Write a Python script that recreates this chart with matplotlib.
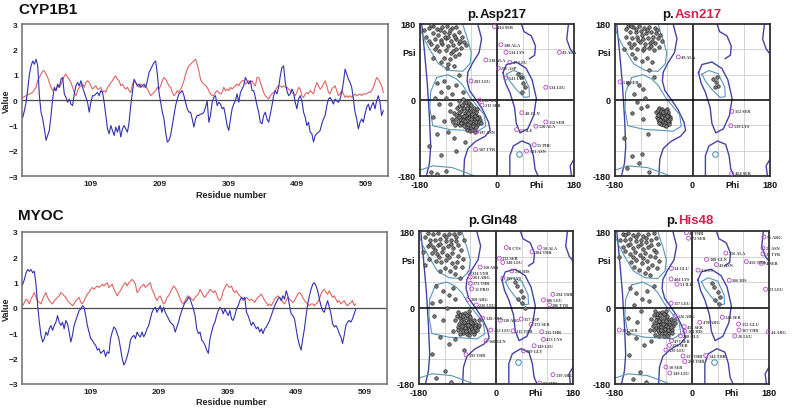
import numpy as np
import matplotlib
matplotlib.use("Agg")
import matplotlib.pyplot as plt

plt.rcParams['font.family'] = ['Liberation Sans', 'DejaVu Sans']

# ---------------- profile data (value per sampled residue) ----------------
profile_start = 10.1      # first sampled residue
profile_step = 2.415      # residues between samples

cyp1b1_blue = [
    -0.68, -0.42, -0.09, 0.43, 1.02, 1.35, 1.54, 1.41, 1.61, 1.35,
    0.17, -0.48, -0.75, -1.14, -1.59, -1.40, -1.20, -0.61, 0.04, 0.50,
    0.37, 0.63, 0.50, 0.82, 0.89, 0.24, 0.10, -0.09, 0.04, -0.16,
    -0.22, 0.24, 0.56, 0.69, 0.56, 0.76, 0.50, 0.30, 0.10, -0.09,
    -0.48, -0.09, 0.17, 0.17, 0.24, 0.30, 0.17, 0.37, 0.30, -0.09,
    -0.61, -1.14, -1.33, -1.01, -1.20, -1.40, -1.07, -1.27, -1.01, -1.46,
    -1.14, -1.01, -1.14, -1.27, -0.88, -0.22, 0.30, 0.82, 0.69, 0.56,
    0.63, 0.50, 0.56, 0.63, 0.50, 0.76, 1.08, 1.22, 1.35, 1.48,
    1.54, 1.02, 0.30, -0.09, -0.48, -0.75, -1.27, -1.66, -1.59, -1.40,
    -1.01, -0.61, -0.22, 0.04, 0.24, 0.30, 0.37, 0.17, -0.09, -0.35,
    -0.48, -0.48, -0.75, -1.07, -0.75, -0.61, -0.61, -0.55, -0.55, -0.48,
    -0.29,
    -0.03, -0.88, -0.61, -0.09, 0.10, 0.17, -0.22, -0.09, -0.16, -0.35,
    -0.29, -0.61, -1.01, -1.20, -0.75, -0.35, -0.16, -0.03, 0.24, -0.09,
    0.30, 0.43, 0.56, 0.89, 0.76, 0.63, 0.76, 0.37, 0.37, 0.10,
    -0.22, -0.48, -0.88, -0.94, -0.61, -0.48, -0.75, -0.88, -0.55, -0.22,
    0.17, 0.37, 0.24, 0.50, 0.95, 1.28, 1.35, 0.69, 0.37, 0.17,
    0.24, 0.43, 0.30, -0.09, -0.35, 0.04, 0.17, -0.03, -0.48, -0.68,
    -1.01, -0.88, -1.27, -1.33, -1.66, -1.40, -1.33, -1.27, -1.20, -0.94,
    -0.75, -0.61, -0.22, 0.04, 0.10, -0.03, -0.16, 0.04, -0.03, -0.09,
    0.04, 0.30, 0.69, 1.22, 1.02, 0.82, 0.69, 0.50, 0.04, -0.48,
    -0.75, -1.14, -0.88, -0.75, -0.88, -0.55, -0.29, -0.16, -0.42, -0.22,
    -0.09, -0.35, -0.03, 0.17, -0.09, -0.61, -0.42,
]

cyp1b1_red = [
    0.10, 0.13, 0.17, 0.20, 0.24, 0.27, 0.30, 0.41, 0.50, 0.76,
    0.89, 1.02, 1.15, 1.15, 1.02, 0.89, 0.69, 0.50, 0.37, 0.43,
    0.37, 0.56, 0.50, 0.63, 0.76, 0.95, 1.02, 0.89, 0.82, 0.69,
    0.50, 0.30, 0.17, 0.37, 0.50, 0.56, 0.63, 0.50, 0.69, 0.76,
    0.69, 0.56, 0.43, 0.50, 0.56, 0.43, 0.43, 0.50, 0.30, 0.37,
    0.30, 0.50, 0.56, 0.69, 0.76, 0.89, 0.95, 0.82, 0.76, 0.56,
    0.63, 0.50, 0.43, 0.50, 0.37, 0.30, 0.63, 0.76, 0.69, 0.56,
    0.50, 0.63, 0.56, 0.50, 0.56, 0.43, 0.30, 0.17, 0.24, 0.30,
    0.37, 0.50, 0.43, 0.56, 0.76, 0.89, 0.82, 0.69, 0.56, 0.50,
    0.30, 0.17, 0.24, 0.37, 0.30, 0.43, 0.56, 0.76, 1.02, 1.22,
    1.35, 1.41, 1.48, 1.54, 1.61, 1.41, 1.15, 0.82, 0.69, 0.63,
    0.56,
    0.50, 0.37, 0.24, 0.17, 0.17, 0.30, 0.37, 0.30, 0.24, 0.30,
    0.50, 0.37, 0.43, 0.37, 0.50, 0.43, 0.50, 0.56, 0.63, 0.56,
    0.69, 0.76, 0.76, 0.63, 0.69, 0.76, 0.69, 0.76, 0.63, 0.56,
    0.89, 0.89, 0.69, 0.50, 0.30, 0.17, 0.10, 0.04, 0.17, 0.24,
    0.30, 0.37, 0.50, 0.56, 0.56, 0.50, 0.56, 0.50, 0.50, 0.43,
    0.37, 0.30, 0.24, 0.17, 0.30, 0.50, 0.43, 0.17, 0.10, 0.24,
    0.30, 0.24, 0.37, 0.30, 0.24, 0.50, 0.69, 0.56, 0.43, 0.50,
    0.63, 0.76, 0.56, 0.30, 0.24, 0.43, 0.50, 0.56, 0.37, 0.17,
    0.24, 0.37, 0.24, 0.10, 0.17, 0.10, 0.17, 0.10, 0.17, 0.24,
    0.17, 0.20, 0.24, 0.17, 0.24, 0.24, 0.24, 0.30, 0.30, 0.37,
    0.50, 0.69, 0.89, 0.82, 0.69, 0.56, 0.30,
]

myoc_blue = [
    0.94, 1.13, 1.39, 1.52, 1.45, 1.52, 1.39, 1.45, 0.94, 0.09,
    -0.56, -1.08, -1.34, -1.21, -0.95, -1.08, -0.82, -0.69, -0.88, -0.69,
    -0.56, -0.30, -0.56, -0.69, -0.56, -0.82, -0.49, -0.62, -0.95, -1.34,
    -1.08, -0.69, -0.49, -0.30, -0.10, -0.04, 0.09, 0.03, -0.30, -0.69,
    -0.95, -1.21, -1.27, -1.40, -1.47, -1.66, -1.60, -1.79, -1.73, -1.66,
    -1.92, -1.73, -1.79, -1.21, -0.95, -0.75, -0.82, -1.01, -1.21, -1.60,
    -1.99, -2.25, -2.12, -1.92, -1.66, -1.27, -1.14, -1.08, -1.21, -0.95,
    -1.08, -1.14, -0.95, -1.14, -1.01, -0.82, -0.69, -0.43, -0.17, -0.04,
    0.03, -0.17, -0.04, 0.09, -0.17, 0.03, -0.17, -0.30, -0.43, -0.56,
    -0.62, -0.69, -0.95, -0.75, -0.56, -0.30, -0.10, 0.09, 0.22, 0.29,
    0.42, 0.35, 0.16, -0.04, -0.30, -0.82, -1.01, -0.95, -1.27, -1.34,
    -1.47,
    -1.66, -1.79, -1.21, -0.95, -0.69, -0.56, -0.30, -0.10, 0.03, -0.04,
    -0.23, -0.04, -0.17, -0.30, -0.10, -0.43, -0.49, -0.30, -0.04, 0.09,
    0.29, 0.42, 0.35, 0.42, -0.17, -0.30, -0.49, -0.69, -0.56, -0.69,
    -0.82, -0.75, -0.95, -0.82, -1.01, -0.82, -0.75, -0.62, -0.49, -0.30,
    -0.10, 0.09, 0.22, 0.35, 0.42, 0.29, 0.48, 0.35, 0.68, 0.48,
    0.09, -0.23, -0.30, -0.43, -0.82, -1.21, -1.47, -1.66, -1.21, -0.82,
    -0.30, 0.16, 0.48, 0.74, 0.94, 1.00, 0.87, 0.68, 0.35, 0.09,
    -0.10, -0.17, 0.09, 0.29, 0.03, -0.23, -0.62, -0.75, -0.69, -0.82,
    -1.01, -1.14, -1.40, -1.08, -0.69, -0.56, -0.49, -0.56, -0.43, -0.23,
    -0.04,
]

myoc_red = [
    0.09, 0.22, 0.35, 0.29, 0.16, 0.35, 0.48, 0.61, 0.42, 0.29,
    0.22, 0.16, 0.35, 0.48, 0.61, 0.42, 0.29, 0.22, 0.16, 0.29,
    0.35, 0.42, 0.48, 0.61, 0.55, 0.48, 0.42, 0.29, 0.22, 0.16,
    0.09, 0.16, 0.29, 0.35, 0.42, 0.22, 0.16, 0.29, 0.42, 0.55,
    0.61, 0.74, 0.81, 0.74, 0.81, 0.87, 0.81, 0.87, 0.94, 0.87,
    0.94, 1.00, 0.81, 0.87, 0.94, 0.74, 0.61, 0.48, 0.61, 0.68,
    0.81, 0.94, 1.00, 0.87, 1.00, 1.06, 1.13, 1.06, 0.94, 0.61,
    0.68, 0.81, 0.87, 0.94, 0.81, 0.87, 0.94, 1.00, 0.74, 0.61,
    0.42, 0.29, 0.42, 0.48, 0.29, 0.16, 0.22, 0.42, 0.48, 0.61,
    0.74, 0.87, 0.81, 0.68, 0.55, 0.35, 0.22, 0.16, 0.29, 0.42,
    0.48, 0.42, 0.35, 0.29, 0.42, 0.48, 0.55, 0.74, 0.61, 0.48,
    0.42,
    0.55, 0.61, 0.74, 0.68, 0.61, 0.68, 0.55, 0.35, 0.29, 0.42,
    0.68, 0.81, 0.94, 0.87, 0.81, 0.87, 0.68, 0.61, 0.68, 0.55,
    0.48, 0.42, 0.29, 0.35, 0.42, 0.35, 0.29, 0.35, 0.29, 0.22,
    0.35, 0.42, 0.48, 0.55, 0.42, 0.29, 0.22, 0.09, 0.16, 0.09,
    0.22, 0.35, 0.42, 0.48, 0.42, 0.35, 0.22, 0.16, 0.29, 0.42,
    0.35, 0.29, 0.22, 0.29, 0.42, 0.55, 0.61, 0.55, 0.42, 0.29,
    0.22, 0.16, 0.09, 0.16, 0.16, 0.09, 0.16, 0.22, 0.35, 0.55,
    0.68, 0.74, 0.61, 0.55, 0.68, 0.55, 0.42, 0.48, 0.35, 0.22,
    0.29, 0.16, 0.22, 0.29, 0.16, 0.09, 0.16, 0.22, 0.29, 0.09,
    0.16,
]

profile_xticks = [109, 209, 309, 409, 509]
profile_yticks = [3, 2, 1, 0, -1, -2, -3]

# ---------------- Ramachandran reference contours (phi, psi) ----------------
rama_outer = [
    [(-176, 180), (-170, 120), (-163, 40), (-158, -40), (-155, -110), (-158, -150), (-165, -180)],
    [(-45, 180), (-36, 145), (-42, 112), (-57, 88), (-68, 66), (-70, 45), (-64, 22), (-50, 2),
     (-34, -22), (-20, -52), (-16, -72), (-28, -86), (-50, -98), (-68, -115), (-76, -140), (-78, -180)],
    [(14, 65), (22, 84), (45, 90), (68, 75), (82, 48), (92, 4), (86, -36), (72, -68), (54, -78),
     (45, -55), (41, -18), (30, 18), (20, 40), (14, 65)],
    [(57, 180), (63, 162), (80, 152), (90, 128), (88, 106), (76, 98)],
    [(30, -180), (30, -132), (38, -109), (58, -97), (77, -105), (85, -132), (89, -164), (96, -180)],
    [(167, 180), (163, 144), (171, 121), (180, 109)],
    [(174, -180), (171, -156), (180, -140)],
]
rama_inner = [
    [(-180, 170), (-172, 148), (-158, 121), (-137, 86), (-110, 70), (-80, 68), (-63, 86),
     (-60, 112), (-68, 142), (-76, 166), (-80, 180)],
    [(-141, 53), (-155, 20), (-157, -20), (-150, -61), (-110, -70), (-70, -72), (-45, -74),
     (-26, -62), (-30, -35), (-50, -10), (-62, 5), (-80, 35), (-95, 50), (-115, 60), (-141, 53)],
    [(22, 61), (38, 70), (60, 62), (75, 30), (76, 8), (64, 6), (45, 25), (30, 45), (22, 61)],
    [(-180, -166), (-150, -156), (-105, -160), (-72, -172), (-52, -180)],
]
rama_inner_spot = (52, -128)

# ---------------- Ramachandran residues (phi, psi) ----------------
asp217_points = [
    (-160, 170), (-150, 175), (-140, 168), (-128, 172), (-118, 176), (-105, 170), (-95, 172),
    (-150, 158), (-138, 155), (-125, 160), (-112, 158), (-100, 155), (-88, 160), (-145, 145),
    (-132, 142), (-120, 146), (-108, 140), (-95, 145), (-82, 150), (-155, 132), (-140, 128),
    (-128, 132), (-115, 128), (-102, 130), (-90, 135), (-78, 138), (-135, 115), (-120, 118),
    (-108, 112), (-95, 120), (-84, 122), (-125, 100), (-110, 96), (-98, 104), (-165, 150),
    (-170, 165), (-115, 85), (-100, 80),
    (-155, 178), (-134, 165), (-122, 150), (-110, 165), (-98, 150), (-86, 140), (-145, 120),
    (-130, 138), (-114, 150), (-102, 116), (-88, 108), (-72, 130), (-150, 100), (-130, 90),
    (-118, 76), (-160, 140),
    (-140, 40), (-125, 45), (-115, 30), (-130, 20), (-105, 15), (-95, 35), (-145, 5), (-120, 5),
    (-90, 60), (-80, 20), (-135, -10), (-110, -10),
    (-90, -15), (-85, -25), (-80, -20), (-75, -30), (-70, -25), (-65, -35), (-60, -30), (-55, -40),
    (-50, -35), (-88, -35), (-82, -40), (-76, -45), (-70, -40), (-64, -45), (-58, -50), (-52, -45),
    (-46, -50), (-80, -55), (-74, -58), (-68, -52), (-62, -60), (-56, -56), (-50, -60), (-44, -58),
    (-72, -65), (-66, -68), (-60, -66), (-54, -70), (-95, -45), (-100, -30), (-92, -55), (-86, -60),
    (-78, -8), (-68, -12), (-62, -20), (-56, -25), (-48, -28), (-42, -40), (-40, -48), (-98, -60),
    (-105, -45), (-110, -25), (-84, -48), (-72, -36), (-66, -42), (-58, -38), (-50, -52), (-60, -45),
    (-94, -20), (-88, -28), (-82, -12), (-76, -18), (-70, -18), (-64, -28), (-58, -33), (-52, -38),
    (-46, -43), (-86, -45), (-80, -48), (-74, -50), (-68, -57), (-62, -52), (-56, -62), (-48, -64),
    (-42, -52), (-90, -40), (-84, -54), (-78, -62), (-70, -70), (-64, -74), (-58, -72), (-52, -76),
    (-96, -36), (-88, -2), (-80, 2), (-72, -4), (-66, -6), (-60, -12), (-54, -18), (-46, -22),
    (-38, -55), (-102, -52), (-76, -38), (-68, -30),
    (-150, -40), (-125, -50), (-140, -80), (-115, -75), (-100, -90), (-130, -130), (-155, -170),
    (-140, -175), (-120, -168), (-75, -100), (-95, -120), (-160, -110),
    (55, 55), (60, 40), (48, 62), (65, 30), (58, 20),
]
asp217_outliers = [
    ("444 SER", -6, 174), ("180 ALA", 9, 131), ("534 LYS", 21, 113), ("49 ALA", 146, 113),
    ("218 ALA", -26, 95), ("47 LEU", 30, 89), ("296 ASP", 3, 75), ("283 LEU", -61, 45),
    ("541 LYS", 20, 52), ("534 LEU", 114, 30), ("216 SER", -41, 0), ("215 SER", -35, -12),
    ("48 GLN", 58, -30), ("112 SER", 114, -52), ("53 ILE", 46, -70), ("520 ALA", 91, -62),
    ("197 ASN", -48, -75), ("55 PHE", 87, -106), ("531 ASN", 69, -121), ("507 TYR", -50, -117),
]

asn217_points = [
    (-150, 176), (-138, 172), (-125, 175), (-112, 170), (-100, 174), (-88, 170), (-145, 162),
    (-132, 160), (-120, 163), (-108, 158), (-96, 162), (-84, 158), (-155, 150), (-140, 148),
    (-128, 150), (-116, 145), (-104, 148), (-92, 150), (-80, 146), (-148, 136), (-135, 133),
    (-122, 138), (-110, 132), (-98, 136), (-86, 134), (-128, 120), (-115, 118), (-102, 122),
    (-90, 118), (-140, 110), (-78, 125), (-105, 100), (-95, 90), (-118, 92), (-70, 140), (-160, 120),
    (-155, 168), (-144, 176), (-131, 168), (-118, 155), (-106, 166), (-94, 140), (-82, 165),
    (-142, 125), (-126, 142), (-112, 124), (-96, 128), (-76, 155), (-134, 100),
    (-150, 40), (-125, 35), (-115, 25), (-135, 15), (-110, 5), (-130, -5), (-120, -20), (-105, -15),
    (-140, -30), (-115, -45), (-100, 70), (-90, 55),
    (-78, -20), (-72, -22), (-66, -25), (-60, -22), (-80, -30), (-74, -32), (-68, -35), (-62, -30),
    (-56, -33), (-82, -40), (-76, -42), (-70, -45), (-64, -40), (-58, -44), (-52, -40), (-78, -50),
    (-72, -52), (-66, -55), (-60, -50), (-54, -52), (-70, -58), (-64, -60), (-58, -57), (-84, -28),
    (-62, -45), (-68, -48), (-74, -38), (-56, -28),
    (-80, -24), (-74, -27), (-68, -29), (-62, -26), (-57, -38), (-79, -35), (-71, -40), (-65, -43),
    (-59, -38), (-53, -46), (-81, -45), (-75, -47), (-69, -52), (-63, -54), (-57, -50), (-73, -56),
    (-67, -60), (-61, -62), (-77, -54), (-55, -56),
    (-103, -81), (-118, -129), (-141, -132), (-153, -160), (-125, -150), (-160, -90), (-100, -170),
    (48, 50), (55, 42), (60, 32), (52, 30), (58, 55),
]
asn217_outliers = [
    ("49 ALA", -33, 102), ("510 SER", -168, 43), ("112 SER", 91, -27), ("539 LYS", 89, -61),
    ("464 SER", 91, -174),
]

gln48_points = [
    (-160, 175), (-148, 172), (-135, 176), (-122, 170), (-110, 174), (-98, 172), (-86, 176),
    (-155, 160), (-142, 158), (-130, 162), (-118, 156), (-106, 160), (-94, 156), (-160, 145),
    (-148, 142), (-136, 146), (-124, 140), (-112, 144), (-100, 140), (-88, 146), (-150, 128),
    (-138, 125), (-126, 130), (-114, 124), (-102, 128), (-90, 122), (-140, 110), (-128, 106),
    (-116, 112), (-104, 104), (-92, 108), (-80, 95), (-120, 92), (-108, 86), (-95, 80), (-85, 70),
    (-170, 130), (-165, 100), (-75, 160),
    (-166, 165), (-154, 150), (-142, 135), (-130, 150), (-118, 166), (-106, 150), (-94, 165),
    (-82, 135), (-156, 115), (-134, 118), (-110, 120), (-96, 95), (-130, 85), (-78, 115),
    (-140, 50), (-125, 40), (-110, 30), (-100, 45), (-130, 15), (-115, 0), (-95, 20), (-145, -20),
    (-125, -30), (-150, 10),
    (-88, -10), (-80, -15), (-72, -12), (-64, -18), (-84, -25), (-76, -28), (-68, -24), (-60, -28),
    (-52, -30), (-86, -38), (-78, -40), (-70, -36), (-62, -40), (-54, -42), (-46, -38), (-82, -50),
    (-74, -52), (-66, -48), (-58, -54), (-50, -50), (-42, -46), (-76, -60), (-68, -62), (-60, -58),
    (-52, -62), (-90, -45), (-95, -30), (-66, -34), (-58, -46), (-72, -44), (-48, -56), (-40, -30),
    (-100, -55), (-85, -62),
    (-84, -18), (-76, -20), (-68, -18), (-60, -22), (-56, -36), (-82, -32), (-74, -34), (-66, -40),
    (-58, -34), (-50, -44), (-80, -44), (-72, -48), (-64, -54), (-56, -50), (-48, -48), (-78, -56),
    (-70, -56), (-62, -64), (-54, -56), (-44, -52), (-88, -52), (-92, -20), (-64, -8), (-40, -40),
    (-130, -70), (-110, -85), (-95, -75), (-150, -110), (-120, -150), (-140, -165), (-105, -175),
    (-75, -100),
    (50, 50), (58, 38), (64, 25), (52, 20), (45, 60), (60, 10), (68, 0),
]
gln48_outliers = [
    ("8 CYS", 24, 141), ("58 ALA", 102, 141), ("384 THR", 84, 131), ("332 SER", 8, 116),
    ("340 LEU", 16, 106), ("110 ASN", -37, 95), ("250 HIS", 37, 86), ("334 TYR", -62, 82),
    ("261 ARG", -60, 72), ("395 LYS", 16, 69), ("273 THR", -60, 57), ("11 PRO", -57, 44),
    ("294 THR", 133, 31), ("106 LEU", 111, 18), ("368 ARG", -66, 19), ("226 LEU", -46, 6),
    ("206 TYR", 125, 6), ("128 ARG", -31, -25), ("330 ARG", 10, -30), ("357 ASP", 59, -27),
    ("372 SER", 82, -40), ("452 LEU", -12, -53), ("315 THR", 40, -55), ("311 THR", 107, -57),
    ("453 CYS", 111, -75), ("349 LEU", 89, -90), ("160 GLN", -23, -78), ("189 GLY", 64, -102),
    ("193 THR", -70, -111), ("139 ARG", 133, -158), ("80 THR", 102, -178),
]

his48_points = [
    (-162, 172), (-150, 176), (-138, 170), (-126, 174), (-114, 168), (-102, 172), (-90, 176),
    (-156, 158), (-144, 162), (-132, 156), (-120, 160), (-108, 154), (-96, 158), (-84, 164),
    (-162, 142), (-150, 146), (-138, 140), (-126, 144), (-114, 138), (-102, 142), (-90, 136),
    (-146, 126), (-134, 130), (-122, 124), (-110, 128), (-98, 122), (-86, 118), (-142, 108),
    (-130, 112), (-118, 104), (-106, 110), (-94, 100), (-82, 92), (-124, 88), (-110, 82), (-98, 76),
    (-170, 120), (-80, 150),
    (-168, 160), (-156, 170), (-144, 150), (-132, 166), (-120, 150), (-108, 164), (-96, 146),
    (-84, 130), (-156, 132), (-138, 118), (-114, 116), (-102, 92), (-136, 96), (-76, 110),
    (-145, 45), (-130, 35), (-118, 20), (-105, 40), (-135, 5), (-120, -8), (-100, 15), (-150, -25),
    (-128, -35), (-90, 50),
    (-86, -8), (-78, -12), (-70, -10), (-62, -16), (-82, -22), (-74, -26), (-66, -22), (-58, -26),
    (-50, -28), (-88, -36), (-80, -38), (-72, -34), (-64, -38), (-56, -40), (-48, -36), (-84, -48),
    (-76, -50), (-68, -46), (-60, -52), (-52, -48), (-44, -44), (-78, -58), (-70, -60), (-62, -56),
    (-54, -60), (-92, -44), (-96, -28), (-68, -32), (-60, -44), (-74, -42), (-46, -54), (-42, -30),
    (-98, -54), (-86, -64), (-66, -66), (-56, -68),
    (-82, -16), (-74, -18), (-66, -16), (-58, -20), (-54, -34), (-84, -30), (-76, -32), (-68, -38),
    (-60, -32), (-52, -42), (-80, -42), (-72, -46), (-64, -50), (-56, -46), (-48, -46), (-80, -52),
    (-72, -54), (-64, -60), (-56, -54), (-46, -60), (-90, -54), (-90, -18), (-60, -8), (-40, -36),
    (-76, -66),
    (-132, -72), (-112, -88), (-96, -78), (-148, -112), (-122, -152), (-138, -168), (-108, -176),
    (-150, -60),
    (52, 48), (60, 36), (66, 24), (54, 18), (46, 58), (62, 8),
]
his48_outliers = [
    ("49 THR", -13, 176), ("72 SER", -8, 163), ("96 ARG", 168, 166), ("28 ASN", 166, 140),
    ("37 TYR", 166, 126), ("356 ALA", 79, 128), ("388 GLN", 34, 113), ("42 ASN", 57, 101),
    ("456 THR", 127, 108), ("74 SER", 162, 104), ("14 GLU", -48, 92), ("3 CYS", 14, 88),
    ("404 LYS", -49, 67), ("51 ILE", -35, 55), ("366 HIS", 87, 64), ("23 LEU", 172, 43),
    ("117 LEU", -49, 10), ("126 ARG", -40, -21), ("124 SER", 71, -23), ("470 ARG", 18, -35),
    ("152 GLU", 109, -39), ("231 SER", -170, -53), ("451 SER", -18, -45), ("167 THR", 110, -53),
    ("44 ARG", 178, -57), ("26 LEU", 100, -67), ("162 HIS", -17, -56), ("208 GLU", -27, -67),
    ("477 SER", -48, -78), ("155 SER", -53, -89), ("129 LEU", -61, -100), ("157 THR", -21, -114),
    ("344 THR", 32, -113), ("269 THR", -17, -127), ("10 SER", -61, -140), ("349 LEU", -52, -154),
]

# ---------------- drawing ----------------
W, H = 792, 414
fig = plt.figure(figsize=(W / 100, H / 100), dpi=100)


def box(l, t, r, b):
    return [l / W, 1 - b / H, (r - l) / W, (b - t) / H]


BLUE = '#3232b2'
RED = '#e06464'


def profile(rect, blue, red, title, title_y, xlab_y):
    ax = fig.add_axes(box(*rect))
    xb = profile_start + profile_step * np.arange(len(blue))
    xr = profile_start + profile_step * np.arange(len(red))
    ax.plot(xr, red, color=RED, lw=0.8, zorder=2)
    ax.plot(xb, blue, color=BLUE, lw=0.8, zorder=3)
    ax.axhline(0, color='#4a4a4a', lw=0.9, zorder=1)
    ax.set_xlim(9, 541)
    ax.set_ylim(-3, 3)
    ax.set_xticks(profile_xticks)
    ax.set_yticks(profile_yticks)
    ax.tick_params(length=0, labelsize=6, pad=3, labelcolor='#222222')
    for lab in ax.get_xticklabels() + ax.get_yticklabels():
        lab.set_fontweight('bold')
    for s in ax.spines.values():
        s.set_color('#6e6e6e')
        s.set_linewidth(1.1)
    cy = (rect[1] + rect[3]) / 2
    fig.text(6 / W, 1 - cy / H, 'Value', rotation=90, ha='center', va='center',
             fontsize=6.5, fontweight='bold', color='#222222')
    fig.text(231 / W, 1 - xlab_y / H, 'Residue number', ha='center', va='center',
             fontsize=6.5, fontweight='bold', color='#222222')
    fig.text(18 / W, 1 - title_y / H, title, ha='left', va='center',
             fontsize=11, fontweight='bold', color='#111111')


profile((22, 25, 388, 177), cyp1b1_blue, cyp1b1_red, 'CYP1B1', 10, 196)
profile((22, 233, 387, 385), myoc_blue, myoc_red, 'MYOC', 216, 403)

NAVY = '#4343a6'
TEAL = '#5796b8'
PURPLE = '#b546c6'


def rama(rect, pts, outliers):
    ax = fig.add_axes(box(*rect))
    ax.set_xlim(-180, 180)
    ax.set_ylim(-180, 180)
    for g in (-120, -60, 60, 120):
        ax.axvline(g, color='#cdcdcd', lw=0.6, zorder=0)
        ax.axhline(g, color='#cdcdcd', lw=0.6, zorder=0)
    for line in rama_outer:
        a = np.array(line)
        ax.plot(a[:, 0], a[:, 1], color=NAVY, lw=1.0, zorder=1)
    for line in rama_inner:
        a = np.array(line)
        ax.plot(a[:, 0], a[:, 1], color=TEAL, lw=0.8, zorder=1)
    ax.plot([rama_inner_spot[0]], [rama_inner_spot[1]], 'o', ms=4, mfc='none',
            mec=TEAL, mew=0.8, zorder=1)
    ax.axvline(0, color='black', lw=1.1, zorder=1.5)
    ax.axhline(0, color='black', lw=1.1, zorder=1.5)
    p = np.array(pts)
    ax.scatter(p[:, 0], p[:, 1], s=6.5, c='#7c7c7c', edgecolors='#262626',
               linewidths=0.45, zorder=3)
    op = np.array([(o[1], o[2]) for o in outliers])
    ax.scatter(op[:, 0], op[:, 1], s=8, facecolors='none', edgecolors=PURPLE,
               linewidths=0.6, zorder=4)
    for name, ph, ps in outliers:
        ax.text(ph + 7, ps, name, fontsize=3.1, va='center', ha='left',
                family=['Liberation Serif', 'DejaVu Serif'], fontweight='bold',
                color='#3a3a3a', zorder=5, clip_on=False)
    ax.set_xticks([-180, 0, 93, 180])
    ax.set_xticklabels(['-180', '0', 'Phi', '180'])
    ax.set_yticks([-180, 0, 114, 180])
    ax.set_yticklabels(['-180', '0', 'Psi', '180'])
    ax.tick_params(length=0, labelsize=6.5, pad=3, labelcolor='#111111')
    for lab in ax.get_xticklabels() + ax.get_yticklabels():
        lab.set_fontweight('bold')
    for s in ax.spines.values():
        s.set_color('#303030')
        s.set_linewidth(1.3)
    return ax


rama((420, 25, 574, 177), asp217_points, asp217_outliers)
rama((615, 25, 770, 177), asn217_points, asn217_outliers)
rama((419, 232, 573, 385), gln48_points, gln48_outliers)
rama((615, 232, 769, 385), his48_points, his48_outliers)

renderer = fig.canvas.get_renderer()


def panel_title(cx, cy, first, second, second_color):
    kw = dict(fontsize=9.5, fontweight='bold', ha='left', va='center')
    t1 = fig.text(0, 1 - cy / H, first, color='#111111', **kw)
    t2 = fig.text(0, 1 - cy / H, second, color=second_color, **kw)
    w1 = t1.get_window_extent(renderer).width
    w2 = t2.get_window_extent(renderer).width
    x0 = cx - (w1 + w2) / 2
    t1.set_x(x0 / W)
    t2.set_x((x0 + w1) / W)


MUT = '#d5204c'
panel_title(497, 15, 'p.', 'Asp217', '#111111')
panel_title(692, 15, 'p.', 'Asn217', MUT)
panel_title(493, 221, 'p.', 'Gln48', '#111111')
panel_title(690, 221, 'p.', 'His48', MUT)

fig.savefig('out.png', dpi=100)
